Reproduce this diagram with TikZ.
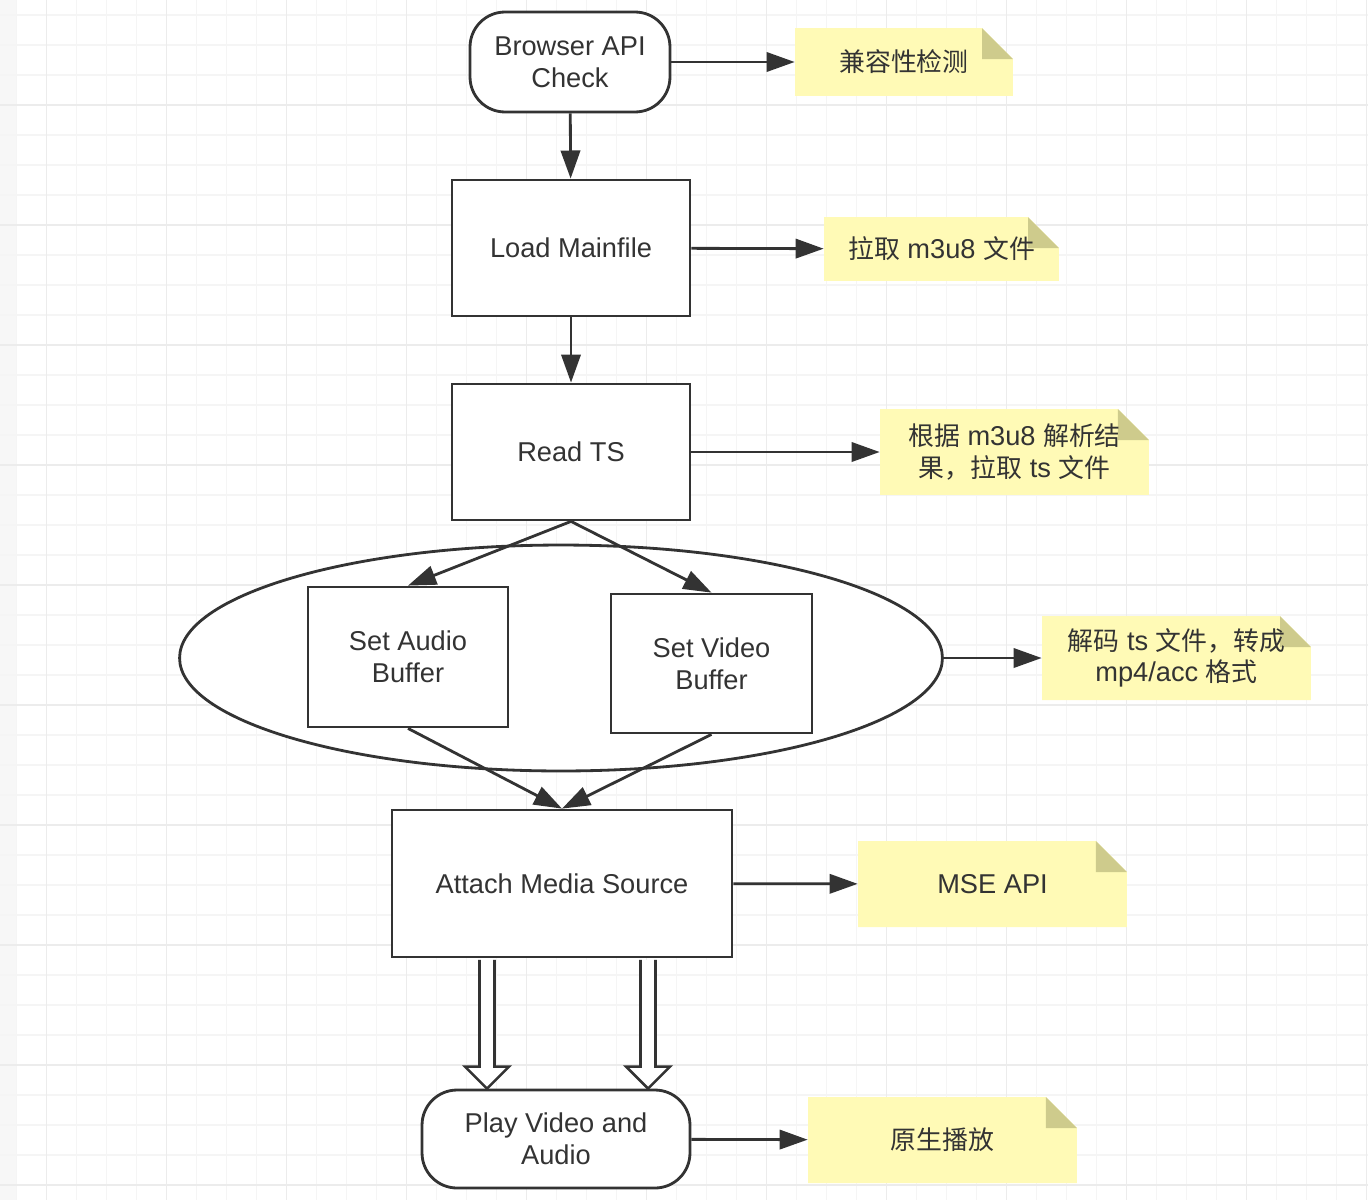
\documentclass[tikz,border=0pt]{standalone}
\usepackage{fontspec}
\setmainfont{Liberation Sans}
\newfontfamily\cjk[Scale=0.95]{Noto Sans CJK SC}
\usepackage{tikz}
\usetikzlibrary{
  arrows.meta,
  positioning,
  shapes.geometric,
  calc
}
\definecolor{inkgray}{RGB}{51,51,51}
\definecolor{notefill}{RGB}{255,250,182}
\definecolor{foldfill}{RGB}{206,203,140}
\definecolor{gridminor}{RGB}{245,245,245}
\definecolor{gridmajor}{RGB}{236,236,236}

\begin{document}
\begin{tikzpicture}[
    x=0.02cm, y=-0.02cm,
    font=\fontsize{15.5}{18}\selectfont, text=inkgray,
    proc/.style={draw=inkgray, line width=1.6pt, fill=white,
                 align=center, inner sep=0pt},
    term/.style={proc, rounded corners=0.7cm},
    note/.style={align=center, inner sep=0pt,
      path picture={
        \fill[notefill] (path picture bounding box.south west)
          -- (path picture bounding box.north west)
          -- ([xshift=-0.62cm]path picture bounding box.north east)
          -- ([yshift=-0.62cm]path picture bounding box.north east)
          -- (path picture bounding box.south east) -- cycle;
        \fill[foldfill] ([xshift=-0.62cm]path picture bounding box.north east)
          -- ([xshift=-0.62cm,yshift=-0.62cm]path picture bounding box.north east)
          -- ([yshift=-0.62cm]path picture bounding box.north east) -- cycle;
      }},
    flow/.style={draw=inkgray, line width=1.6pt,
                 -{Triangle[length=16pt, width=11pt]}},
    hollow/.style={draw=inkgray, line width=1.5pt, fill=white, line join=miter},
  ]
  \useasboundingbox (0,0) rectangle (1368,1200);

  % Grid paper
  \fill[black!3] (0,0) rectangle (16,1200);
  \foreach \i in {0,...,45}
    \draw[gridminor, line width=0.8pt] ({16.7+30*\i},0) -- ++(0,1200);
  \foreach \i in {0,...,39}
    \draw[gridminor, line width=0.8pt] (0,{15+30*\i}) -- ++(1368,0);
  \foreach \i in {0,...,11}
    \draw[gridmajor, line width=0.8pt] ({46.7+120*\i},0) -- ++(0,1200);
  \foreach \i in {0,...,9}
    \draw[gridmajor, line width=0.8pt] (0,{105+120*\i}) -- ++(1368,0);

  % Main steps
  \node[term, minimum width=4cm, minimum height=2cm] (check) at (570,62)
    {Browser API\\Check};
  \node[proc, minimum width=4.76cm, minimum height=2.72cm] (load) at (571,248)
    {Load Mainfile};
  \node[proc, minimum width=4.76cm, minimum height=2.72cm] (readts) at (571,452)
    {Read TS};

  % Buffers
  \node[draw=inkgray, line width=1.6pt, fill=white, ellipse, inner sep=0pt,
        minimum width=15.26cm, minimum height=4.52cm] (buffers) at (561,658) {};
  \node[proc, minimum width=4cm, minimum height=2.8cm] (audio) at (408,657)
    {Set Audio\\Buffer};
  \node[proc, minimum width=4.02cm, minimum height=2.78cm] (video) at (711.5,663.5)
    {Set Video\\Buffer};

  \node[proc, minimum width=6.8cm, minimum height=2.94cm] (attach) at (562,883.5)
    {Attach Media Source};
  \node[term, minimum width=5.36cm, minimum height=1.96cm] (play) at (556,1139)
    {Play Video and\\Audio};

  % Notes
  \node[note, minimum width=4.36cm, minimum height=1.36cm] (n1) at (904,62)
    {\cjk 兼容性检测};
  \node[note, minimum width=4.7cm, minimum height=1.28cm] (n2) at (941.5,249)
    {{\cjk 拉取} m3u8 {\cjk 文件}};
  \node[note, minimum width=5.38cm, minimum height=1.72cm] (n3) at (1014.5,452)
    {{\cjk 根据} m3u8 {\cjk 解析结}\\{\cjk 果，拉取} ts {\cjk 文件}};
  \node[note, minimum width=5.38cm, minimum height=1.68cm] (n4) at (1176.5,658)
    {{\cjk 解码} ts {\cjk 文件，转成}\\mp4/acc {\cjk 格式}};
  \node[note, minimum width=5.38cm, minimum height=1.72cm] (n5) at (992.5,884)
    {MSE API};
  \node[note, minimum width=5.38cm, minimum height=1.72cm] (n6) at (942.5,1140)
    {\cjk 原生播放};

  % Flow
  \draw[flow] (check) -- (load);
  \draw[flow] (load) -- (readts);
  \draw[flow] (readts.south) -- (audio.north);
  \draw[flow] (readts.south) -- (video.north);
  \draw[flow] (audio.south) -- (attach.north);
  \draw[flow] (video.south) -- (attach.north);

  % Hollow arrows
  \path (attach.south) ++(-75,0) coordinate (hl) ++(161,0) coordinate (hr);
  \foreach \h in {hl,hr}
    \draw[hollow] ([xshift=-0.15cm,yshift=-0.8pt]\h)
      -- ([xshift=-0.15cm,yshift=0.44cm]\h |- play.north)
      -- ([xshift=-0.44cm,yshift=0.44cm]\h |- play.north)
      -- (\h |- play.north)
      -- ([xshift=0.44cm,yshift=0.44cm]\h |- play.north)
      -- ([xshift=0.15cm,yshift=0.44cm]\h |- play.north)
      -- ([xshift=0.15cm,yshift=-0.8pt]\h);

  % To notes
  \draw[flow] (check) -- (n1);
  \draw[flow] (load) -- (n2);
  \draw[flow] (readts) -- (n3);
  \draw[flow] (buffers) -- (n4);
  \draw[flow] (attach) -- (n5);
  \draw[flow] (play) -- (n6);

\end{tikzpicture}
\end{document}
